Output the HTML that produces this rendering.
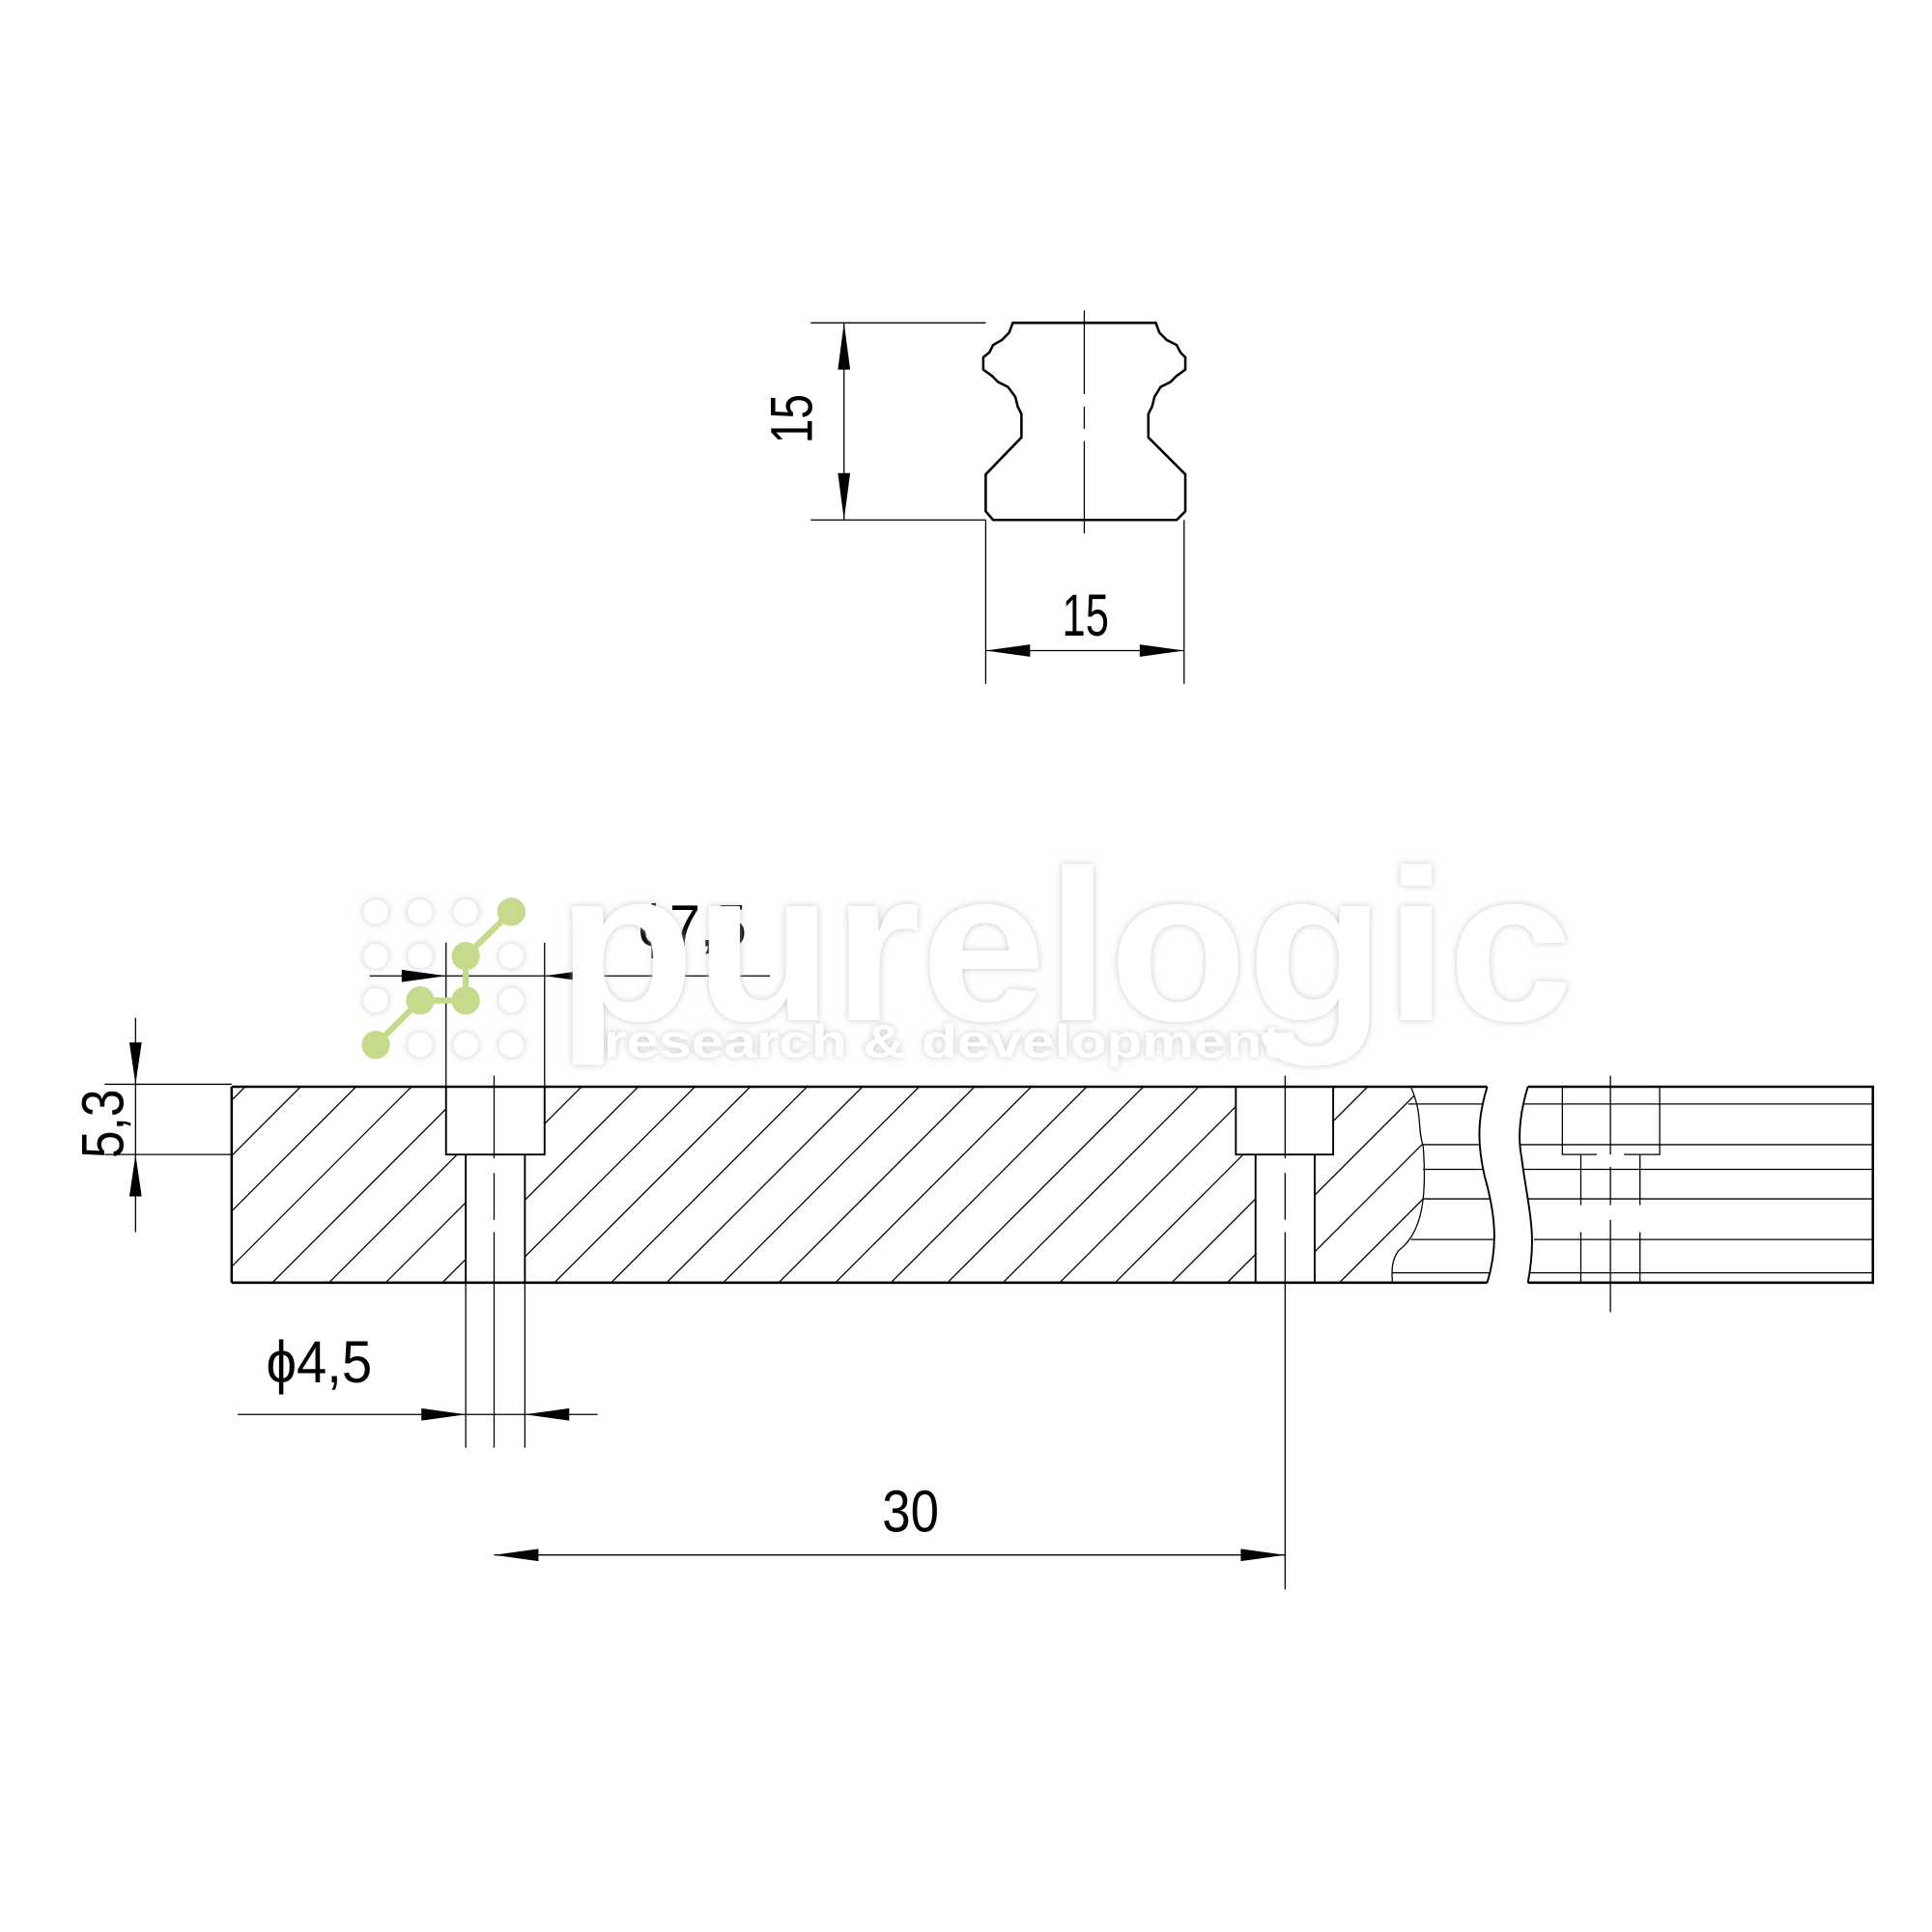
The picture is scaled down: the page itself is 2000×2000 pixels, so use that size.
<!DOCTYPE html>
<html><head><meta charset="utf-8"><style>html,body{margin:0;padding:0;background:#fff}svg{display:block}</style></head>
<body>
<svg width="2000" height="2000" viewBox="0 0 1568 1568" xmlns="http://www.w3.org/2000/svg" font-family="Liberation Sans, sans-serif">
<defs>
<clipPath id="hc"><path d="M188,882 L1145,882 C1155,905 1150,915 1155,930 C1158,970 1155,1000 1135,1015 C1128,1025 1130,1035 1130,1041 L188,1041 Z"/></clipPath>
<filter id="sh" x="-5%" y="-20%" width="110%" height="140%"><feDropShadow dx="0" dy="0" stdDeviation="3" flood-color="#bbb" flood-opacity="0.8"/></filter>
</defs>
<g stroke="#000" fill="none">
<path stroke-width="2" d="M822,262 L938,262 L941,270 L947,276 L955,280 L958,286 L962,290 L962,300 L955,305 L950,310 L942,314 L937,322 L935,330 L932,336 L932,355 L962,385 L962,415 L955,422 L806,422 L800,415 L800,385 L829,355 L829,336 L826,330 L824,322 L818,314 L810,310 L805,305 L798,300 L798,290 L803,286 L806,280 L813,276 L819,270 Z"/>
<path stroke-width="1" d="M880,252 V320 M880,330 V348 M880,358 V433"/>
<path stroke-width="1" d="M658,262 H800 M658,422 H800 M685,262 V422 M800,422 V555 M961,422 V555 M800,528 H961"/>
<g clip-path="url(#hc)" stroke-width="1">
<path d="M221,1041 l160,-160 M267,1041 l160,-160 M313,1041 l160,-160 M359,1041 l160,-160 M405,1041 l160,-160 M450,1041 l160,-160 M496,1041 l160,-160 M541,1041 l160,-160 M587,1041 l160,-160 M632,1041 l160,-160 M678,1041 l160,-160 M723,1041 l160,-160 M769,1041 l160,-160 M814,1041 l160,-160 M860,1041 l160,-160 M905,1041 l160,-160 M951,1041 l160,-160 M996,1041 l160,-160 M1042,1041 l160,-160 M1087,1041 l160,-160 M1133,1041 l160,-160 M175,1041 l160,-160 M130,1041 l160,-160 M85,1041 l160,-160 M40,1041 l160,-160"/>
</g>
<rect x="362" y="882" width="80" height="55" fill="#fff" stroke="none"/>
<rect x="378" y="937" width="48" height="104" fill="#fff" stroke="none"/>
<rect x="1003" y="882" width="79" height="55" fill="#fff" stroke="none"/>
<rect x="1019" y="937" width="48" height="104" fill="#fff" stroke="none"/>
<path stroke-width="1.5" d="M362,882 V937 H442 V882 M378,937 V1041 M426,937 V1041 M1003,882 V937 H1082 V882 M1019,937 V1041 M1067,937 V1041"/>
<path stroke-width="1" d="M401,873 V940 M401,952 V990 M401,1000 V1175 M1043,873 V940 M1043,952 V990 M1043,1000 V1290"/>
<path stroke-width="2" d="M188,882 H1207 M188,1041 H1207 M188,882 V1041"/>
<path stroke-width="1" d="M1145,882 C1155,905 1150,915 1155,930 C1158,970 1155,1000 1135,1015 C1128,1025 1130,1035 1130,1041"/>
<path stroke-width="1.5" d="M1207,882 C1200,905 1198,925 1205,955 C1215,990 1215,1015 1207,1041"/>
<path stroke-width="1" d="M1143,896 H1203 M1155,929 H1200 M1155,949 H1203 M1155,973 H1210 M1145,1006 H1213 M1130,1033 H1210"/>
<path stroke-width="2" d="M1240,882 H1520 V1041 H1240"/>
<path stroke-width="1.5" d="M1240,882 C1233,905 1232,925 1235,940 C1240,980 1248,1000 1240,1041"/>
<path stroke-width="1" d="M1236,896 H1520 M1234,929 H1520 M1237,949 H1520 M1240,973 H1520 M1245,1006 H1520 M1242,1033 H1520"/>
<path stroke-width="1" d="M1268,882 V937 H1296 M1318,937 H1347 V882 M1283,937 V978 M1331,937 V978 M1283,1000 V1041 M1331,1000 V1041 M1307,873 V937 M1307,947 V978 M1307,990 V1065"/>
<path stroke-width="1" d="M85,880 H188 M85,937 H188 M110,826 V1000"/>
<path stroke-width="1" d="M362,765 V882 M442,765 V882 M300,792 H625"/>
<path stroke-width="1" d="M378,1041 V1175 M426,1041 V1175 M193,1148 H485"/>
<path stroke-width="1" d="M401,1262 H1043"/>
</g>
<g fill="#000">
<path d="M685,262 l-5,38 h10z M685,422 l-5,-38 h10z"/>
<path d="M800,528 l36,-5 v10z M961,528 l-36,-5 v10z"/>
<path d="M110,880 l-5,-34 h10z M110,937 l-5,34 h10z"/>
<path d="M362,792 l-36,-5 v10z M442,792 l36,-5 v10z"/>
<path d="M378,1148 l-36,-5 v10z M426,1148 l36,-5 v10z"/>
<path d="M401,1262 l36,-5 v10z M1043,1262 l-36,-5 v10z"/>
</g>
<g font-size="48" fill="#000">
<text x="862" y="516" textLength="38" lengthAdjust="spacingAndGlyphs">15</text>
<text transform="translate(659,360) rotate(-90)" textLength="40" lengthAdjust="spacingAndGlyphs">15</text>
<text transform="translate(100,940) rotate(-90)" textLength="56" lengthAdjust="spacingAndGlyphs">5,3</text>
<text x="216" y="1122" textLength="86" lengthAdjust="spacingAndGlyphs">ϕ4,5</text>
<text x="716" y="1243" textLength="46" lengthAdjust="spacingAndGlyphs">30</text>
<text x="518" y="768" textLength="88" lengthAdjust="spacingAndGlyphs">ϕ7,5</text>
</g>
<g filter="url(#sh)" fill="#fff">
<text x="452" y="828" font-size="175" font-weight="bold" textLength="825" lengthAdjust="spacingAndGlyphs">purelogic</text>
<text x="490" y="858" font-size="38" font-weight="bold" textLength="550" lengthAdjust="spacingAndGlyphs">research &amp; development</text>
<g><circle cx="305" cy="740" r="10"/><circle cx="341" cy="740" r="10"/><circle cx="378" cy="740" r="10"/><circle cx="305" cy="776" r="10"/><circle cx="341" cy="776" r="10"/><circle cx="415" cy="776" r="10"/><circle cx="305" cy="812" r="10"/><circle cx="415" cy="812" r="10"/><circle cx="341" cy="848" r="10"/><circle cx="378" cy="848" r="10"/><circle cx="415" cy="848" r="10"/></g>
</g>
<g fill="#c6da8c" stroke="#c6da8c" stroke-width="5">
<path d="M305,848 L341,812 H378 V776 L415,740" fill="none"/>
<circle cx="305" cy="848" r="9"/><circle cx="341" cy="812" r="9"/><circle cx="378" cy="812" r="9"/><circle cx="378" cy="776" r="9"/><circle cx="415" cy="740" r="9"/>
</g>
</svg>
</body></html>
